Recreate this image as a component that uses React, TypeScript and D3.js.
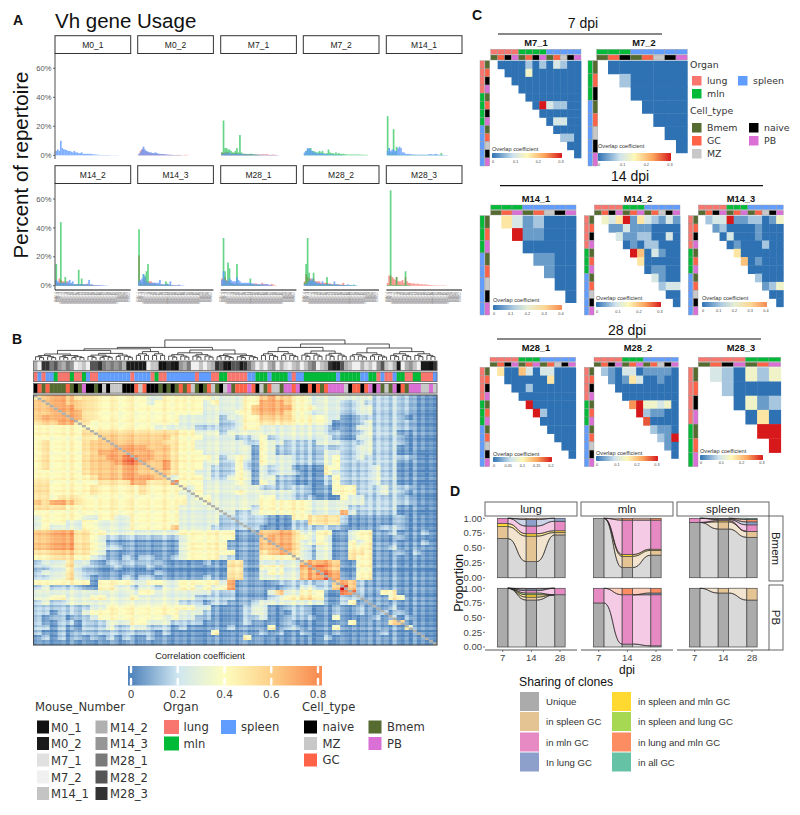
import React from 'react';
import * as d3 from 'd3';

const SANS = '"Liberation Sans", Arial, sans-serif';
const WIDE = '"DejaVu Sans", Verdana, sans-serif';

// shared colours
const organColors: Record<string, string> = { lung: '#F8766D', mln: '#00BA38', spleen: '#619CFF' };
const cellColors: Record<string, string> = { naive: '#000000', MZ: '#C8C8C8', GC: '#FF6347', Bmem: '#556B2F', PB: '#DA70D6' };

// ---- panel A: Vh usage, percent per gene bin
const m0_1_spleen = [3, 4, 3, 10, 5, 4, 4, 3.5, 3, 3, 2.5, 2, 3, 2, 2, 1.5, 1.5, 2, 1, 1, 1, 1, 1, 1, 0.8, 0.6, 0.5, 0.5, 0.3, 0.3, 0.2, 0.2, 0.2, 0.2, 0.2, 0.2, 0.1, 0.1, 0.1, 0.1, 0.1, 0.1];
const m0_2_lung = [1, 3, 4, 5, 3, 2.5, 2, 2, 1.5, 1.5, 1, 1.5, 1, 1, 0.8, 0.8, 0.6, 0.5, 0.5, 0.4, 0.3, 0.3, 0.3, 0.2, 0.2, 0.2, 0.3, 0.3, 0.2, 0.1, 0.1, 0.3, 0.3, 0.1];
const m0_2_spleen = [1, 2, 4, 6, 4, 3, 2.5, 2, 2, 1.5, 1.5, 2, 1.5, 1, 1, 0.8, 0.8, 0.8, 0.5, 0.5, 0.4, 0.3, 0.3, 0.2, 0.2, 0.2, 0.2, 0.1, 0.1, 0.1];
const m7_1_lung = [2, 1.5, 2, 2, 2, 1, 1, 1.5, 1, 1.5, 1.5, 1, 1, 1, 1, 1, 0.8, 0.8, 0.8, 0.8, 0.6, 0.6, 0.5, 0.5, 0.5, 0.5, 0.5, 0.8, 0.5, 0.5, 0.8, 0.5, 0.3, 0.3, 0.5, 0.3, 0.3, 0.2];
const m7_1_mln = [2, 24, 5, 5, 4, 4, 3, 2, 2, 3, 5, 2, 14, 2, 1, 1, 1, 0.8, 0.8, 1, 1, 0.6, 0.5, 0.5, 0.3, 0.3];
const m7_1_spleen = [1, 1, 1.5, 1.5, 1, 2, 1, 1, 1, 1, 1, 1, 1, 1, 0.8, 0.6, 0.6, 0.5, 0.5, 0.5, 0.5, 0.4, 0.4, 0.3, 0.3, 0.3, 0.3, 0.3, 0.3, 0.3, 0.2, 0.2, 0.2, 0.2, 0.2, 0.2, 0.2, 0.1, 0.1];
const m7_2_mln = [1, 3, 4, 4, 5, 3, 3, 2.5, 2, 2, 3, 2, 3, 1.5, 1, 1.5, 4, 2, 1.5, 1.5, 1, 2, 1, 1.5, 1, 1, 1, 0.8, 0.6, 0.5, 0.5, 0.5, 0.5, 0.5, 0.5, 0.5, 0.5, 0.5, 0.4, 0.4, 0.3, 0.3, 0.3];
const m7_2_spleen = [2, 3, 5, 5, 4, 3, 2, 2, 1.5, 1, 1.5, 1.5, 1, 1, 0.8, 0.8, 0.6, 0.5, 0.5, 0.5, 0.4, 0.3, 0.3, 0.3, 0.2, 0.2];
const m14_1_mln = [27, 5, 2, 2, 18, 2, 6, 0.5, 0.5, 0.3, 0.3, 0.3, 0.3, 0.2, 0.2, 0.2, 0.2, 0.2, 0.2, 0.2, 0.2, 0.2, 0.2, 0.2, 0.2, 0.2, 0.2, 0.2, 0.2, 0.2, 0.2, 0.2, 0.2, 0.2, 0.2, 0.2, 1.5, 0.2];
const m14_1_spleen = [3, 5, 3, 4, 4, 3, 3, 5, 6, 5, 2, 2, 1, 1, 1, 0.8, 0.8, 0.5, 0.5, 0.5, 0.4, 0.4, 0.4, 0.4, 0.4, 0.4, 0.4, 0.4, 0.8, 0.8, 0.6, 0.5, 1, 0.8, 0.4, 0.3, 0.3, 0.3, 0.2, 0.2, 0.2];
const m14_2_lung = [3, 2, 5, 4, 3, 3, 2, 3, 2, 1.5, 1, 1, 1, 1, 1, 1, 1, 0.8, 0.8, 1, 1, 1.5, 0.8, 0.5, 0.5, 0.5, 0.5, 0.3, 0.3, 0.3, 0.2, 0.2];
const m14_2_mln = [15, 1, 2, 44, 2, 2, 6, 1, 1, 1, 0.8, 0.8, 0.8, 0.8, 0.8, 11, 1, 5, 0.8, 0.6, 0.6, 0.5, 0.5, 0.3, 0.3];
const m14_2_spleen = [4, 3, 2, 2, 2, 2, 2, 2, 3, 4, 2, 3, 1, 1, 1, 1, 1, 1, 1, 1, 1, 1, 4, 1, 1, 0.5, 0.5, 0.5, 0.5, 0.5, 0.3, 0.3, 0.3, 0.2, 0.2];
const m14_3_lung = [21, 3, 2, 4, 5, 3, 2, 3, 3, 2, 2, 1.5, 1, 1, 1, 1, 0.8, 0.8, 0.8, 0.8, 0.5, 0.5, 0.4, 0.4, 0.3, 0.3, 0.5, 0.3];
const m14_3_mln = [39, 2, 1, 8, 7, 10, 15, 1, 1, 1, 1, 0.8, 0.6, 0.6, 0.6, 0.5, 0.5, 0.5, 3, 1.5, 0.5, 0.3, 0.3];
const m14_3_spleen = [3, 4, 5, 8, 6, 3, 2, 2, 2, 2, 2, 2, 2, 2, 4, 1, 1, 1, 1, 1, 1, 3, 0.5, 0.5, 0.5, 0.4, 0.4, 0.8, 0.3, 0.3, 0.2];
const m28_1_lung = [5, 4, 6, 4, 3, 3, 2, 2, 1.5, 1.5, 1.5, 1.5, 1, 1, 1, 1, 1, 1, 1, 1, 1, 1, 1.5, 1.5, 1, 1, 0.8, 2, 1, 1, 1, 0.5, 0.5, 1, 1, 0.3, 0.3];
const m28_1_mln = [1, 33, 10, 3, 16, 12, 2, 1, 1, 1, 15, 1, 1, 1, 1, 1, 0.8, 0.8, 0.8, 5, 1, 0.8, 0.6, 0.5, 0.5, 0.5, 0.3, 0.3];
const m28_1_spleen = [4, 10, 4, 3, 3, 5, 4, 3, 3, 3, 6, 4, 3, 2, 2, 2, 2, 2, 2, 2, 1.5, 1.5, 1, 1, 1, 1, 1, 1, 1, 1, 1, 1, 0.5, 0.5];
const m28_2_lung = [3, 8, 6, 5, 5, 4, 5, 3, 3, 3, 3, 2, 2, 2, 2, 2, 1.5, 1.5, 1, 1, 1, 1, 1, 1, 0.8, 0.8, 2, 0.5, 0.5, 0.3, 0.3, 0.3];
const m28_2_mln = [2, 15, 33, 9, 3, 3, 9, 2, 2, 1, 1, 1, 1, 1, 1, 6, 1, 1, 0.8, 0.8, 0.5, 0.5, 0.5, 0.5, 0.5, 0.5, 0.5, 0.5, 0.3, 0.3, 0.3, 0.3, 0.3, 0.8, 0.3];
const m28_2_spleen = [1, 1, 2, 3, 4, 5, 3, 3, 2, 2, 2, 1, 3, 1, 1, 1, 1, 1, 1, 0.5, 3, 1, 1, 0.5, 0.5, 0.5, 0.5, 0.5, 0.5, 1, 0.5, 0.5, 0.4, 0.4, 0.3, 0.3];
const m28_3_lung = [2, 7, 7, 6, 5, 4, 6, 3, 3, 3, 4, 2, 6, 3, 2, 2, 1.5, 1.5, 1.5, 1, 1.5, 1, 1, 1, 0.8, 0.8, 0.8, 0.6, 0.5, 0.5, 0.3, 0.3, 0.3, 0.2, 0.2, 0.2, 0.2, 0.2, 0.2, 0.2];
const m28_3_mln = [0.5, 0.5, 66, 0.5, 0.5, 0.5, 6, 0.5, 0.5, 0.5, 0.5, 0.5, 10, 0.5, 0.3, 0.3];

const vhGenes = ['IGHV1-4', 'IGHV1-5', 'IGHV1-7', 'IGHV1-9', 'IGHV1-12', 'IGHV1-14', 'IGHV1-15', 'IGHV1-18', 'IGHV1-19', 'IGHV1-20', 'IGHV1-22', 'IGHV1-23', 'IGHV1-26', 'IGHV1-31', 'IGHV1-34', 'IGHV1-36', 'IGHV1-39', 'IGHV1-42', 'IGHV1-43', 'IGHV1-47', 'IGHV1-50', 'IGHV1-52', 'IGHV1-53', 'IGHV1-54', 'IGHV1-55', 'IGHV1-58', 'IGHV1-59', 'IGHV1-61', 'IGHV1-63', 'IGHV1-64', 'IGHV1-66', 'IGHV1-69', 'IGHV1-72', 'IGHV1-74', 'IGHV1-75', 'IGHV1-76', 'IGHV1-78', 'IGHV1-80', 'IGHV1-81', 'IGHV1-82', 'IGHV1-84', 'IGHV1-85', 'IGHV2-2', 'IGHV2-3', 'IGHV2-6', 'IGHV3-1', 'IGHV3-6', 'IGHV3-8', 'IGHV4-1', 'IGHV5-4'];

const usagePanels = [
  { name: 'M0_1', lung: [], mln: [], spleen: m0_1_spleen },
  { name: 'M0_2', lung: m0_2_lung, mln: [], spleen: m0_2_spleen },
  { name: 'M7_1', lung: m7_1_lung, mln: m7_1_mln, spleen: m7_1_spleen },
  { name: 'M7_2', lung: [], mln: m7_2_mln, spleen: m7_2_spleen },
  { name: 'M14_1', lung: [], mln: m14_1_mln, spleen: m14_1_spleen },
  { name: 'M14_2', lung: m14_2_lung, mln: m14_2_mln, spleen: m14_2_spleen },
  { name: 'M14_3', lung: m14_3_lung, mln: m14_3_mln, spleen: m14_3_spleen },
  { name: 'M28_1', lung: m28_1_lung, mln: m28_1_mln, spleen: m28_1_spleen },
  { name: 'M28_2', lung: m28_2_lung, mln: m28_2_mln, spleen: m28_2_spleen },
  { name: 'M28_3', lung: m28_3_lung, mln: m28_3_mln, spleen: [] },
];
const usageTicks = [0, 20, 40, 60];
const usageColX = [55, 137.7, 220.7, 303.3, 386.3];

// ---- panel B: correlation heatmap, coarse read of the picture, one digit per 2x2 block
const corrRows = [
  '5677655544 4444334444 4433334467 6644333333 3322222111',
  '6677665544 4444344444 4343334477 7644333322 3222222111',
  '6677765544 4444444444 4333334677 7744433322 3322222111',
  '6677775544 4444444444 4333344677 7644333322 3322222111',
  '6777775544 4444444433 3332334466 6644443311 2222221111',
  '5667755444 4444444433 3332234455 5544443111 2322222111',
  '4444444444 4444433333 2222234433 3333332111 3322222111',
  '4444445555 5555555544 3332333333 3333332211 2322211111',
  '4444445566 6666666544 4333322342 3333333211 3322221111',
  '4544445666 6666665544 3333332243 3222233322 2322221111',
  '4544445666 7777666544 3333333143 2222222222 3322211111',
  '4544445677 7777766544 4333333143 2222223322 3322211101',
  '4544445667 7887766544 4432343143 3322223422 3222222101',
  '4544445666 7887667544 4332242143 3322223422 2222211101',
  '4544445666 6776667544 4322242132 3311114422 2232211101',
  '4444445666 6776666544 3322243132 3321114322 2232211101',
  '4444444566 6777765344 4322343133 2211112422 2232211101',
  '5544444455 5577555844 4333343143 2211112422 2232211101',
  '5544444544 4445444443 4333333322 2222111444 2223222111',
  '5544444544 4445444433 4333343333 3322111444 2223221111',
  '5545554444 4444444443 4433333344 3322211143 3222222111',
  '6577654444 4444444443 3433333344 4444333333 3222222111',
  '5555444444 4444444433 3333333244 4444333332 2222211101',
  '4444444444 4444444433 3333322344 4444333373 2222211101',
  '3444443344 3344444433 3332222221 1144555521 1111121111',
  '3444334433 3344444433 3332222221 1122555521 1111121111',
  '3433334433 3344444633 3322222211 1122222211 1112221111',
  '6677755443 3333333344 4444411166 7753344113 4411211121',
  '6677755432 2222222234 4444411167 7754343113 4411121111',
  '6677755431 1111111134 4444111167 7753343114 3411111121',
  '6677755432 2111111134 4444111166 7753233114 4411211111',
  '5566655431 1111111134 4444411156 7753233115 5411121211',
  '4455544321 1212211234 4443211144 4443233115 4411111111',
  '2333533212 2222221111 1211551133 3336777611 4411111111',
  '2233532211 2111211111 1111551144 4337887611 4411111111',
  '2333532211 1111121111 1111551134 4336788711 4411111111',
  '2233532111 1212211111 1211551133 3336778711 4411111111',
  '4444444144 4433443344 4443711111 2222222676 2111111111',
  '2322221144 3323323344 3434711111 1223322696 2111111111',
  '3333333333 3334433333 3322211113 6334441188 2114411111',
  '3344333443 3343333333 2222211112 3445541122 2111441111',
  '2322333333 3333333322 2122111233 3333331124 1111111111',
  '2222222334 4444444444 3311112331 1222111211 2111211111',
  '2212223444 4444444433 3211112331 1122111211 2112121111',
  '2122122344 4444443433 2211112231 1222211411 1121212111',
  '2112212223 3344333222 2111112111 1211111114 1111561111',
  '2212112223 2233222121 1111211114 1221111411 1111114111',
  '2112122222 2222212111 1141111121 2112111211 1112111111',
  '1212121212 1211211111 1111114111 1111112111 1111111111',
  '1111111111 1111111111 1111111111 1111111111 1111111111',
];
// what each digit of corrRows stands for
const corrLevels = [0, 0.04, 0.14, 0.27, 0.4, 0.5, 0.6, 0.7, 0.8, 0.95];
// lighter or darker stripes seen per column and per row, 4 is neutral
const corrColumnStripes = '4545344536 4354435446 5345634453 4464354535 4435463445 3564455345 2534635362 4463345435 3546364537 4352635343';
const corrRowStripes = '5454454344 5345464345 4543546445 3546345464 3455463454 5345364436 4635453462 3546453654 3646354534 4536253544';
const corrLegendTicks = [0, 0.2, 0.4, 0.6, 0.8];

// column annotations, one letter per leaf
const mouseTrack = '5399786576 3243889767 6751111134 4009106573 3434598108 8197534356 3523453467 3459118543 3524368425 1356431109';
const organTrack = 'LSLSSMLLLM LLMSLLSSSS SSSSLSSSSL MLLSSSSSSS LSSSLLMMLL LLLSSMMMSM MMMSLSSMMM MMMMMSMMMM MSSMMLSLLS MMLLMMLLLS';
const cellTrack = 'NGBGBBBBGB NBPNNBNZNZ ZZNNNGZGNN NBNBNBGBGZ BNBGZBNZPB GGGPGNZBGZ ZBPPGPNNGN GBGPPPPZNG GNGPNPBZBP NGBPPPZZPZ';
const organCodes: Record<string, string> = { L: 'lung', M: 'mln', S: 'spleen' };
const cellCodes: Record<string, string> = { N: 'naive', Z: 'MZ', G: 'GC', B: 'Bmem', P: 'PB' };

const mouseNames = ['M0_1', 'M0_2', 'M7_1', 'M7_2', 'M14_1', 'M14_2', 'M14_3', 'M28_1', 'M28_2', 'M28_3'];
const mouseGreys = ['#111111', '#1a1a1a', '#e0e0e0', '#f0f0f0', '#c4c4c4', '#b0b0b0', '#969696', '#7a7a7a', '#555555', '#333333'];

// dendrogram: [height, left, right], a plain number is a block of that many leaves
const dendro: any = [1,
  [0.63,
    [0.56, [0.48, [0.3, 6, 7], [0.33, 7, 5]], [0.42, 4, 4]],
    [0.5, [0.36, 6, 6], [0.3, 5, 6]],
  ],
  [0.8,
    [0.63, [0.42, 5, 5], [0.45, 6, 6]],
    [0.6, [0.36, 5, 5], [0.42, 6, 6]],
  ],
];

// ---- panel C: overlap coefficient, digit 0-9 as tenths of the colour range
const M7_1_rows = ['000020203200', '00040000000', '0000000000', '000000000', '00000000', '0932200', '000000', '03300', '0000', '220', '00', '0'];
const M7_2_rows = ['0000000', '200000', '00000', '0000', '000', '00', '0'];
const M14_1_rows = ['5312000', '911000', '00000', '1100', '100', '00', '0'];
const M14_2_rows = ['43591532131', '1131110000', '311220030', '01022000', '9603100', '500000', '01100', '3100', '233', '00', '0'];
const M14_3_rows = ['23391122014', '1200001000', '030001000', '01000200', '5000000', '601000', '00000', '2000', '124', '00', '0'];
const M28_1_rows = ['50063033000', '0000005000', '002000000', '00000000', '9000000', '920000', '00000', '0000', '000', '00', '0'];
const M28_2_rows = ['21033011110', '1015300100', '000000000', '00000000', '7944340', '921100', '80000', '2110', '219', '10', '0'];
const M28_3_rows = ['320424', '20000', '0412', '050', '99', '9'];

const groupsAll = ['lB', 'lG', 'lN', 'lP', 'mB', 'mG', 'mN', 'mP', 'sB', 'sG', 'sZ', 'sN', 'sP'];
const groups12 = ['lB', 'lG', 'lN', 'lP', 'mB', 'mG', 'mP', 'sB', 'sG', 'sZ', 'sN', 'sP'];
const groupsMlnSpleenN = ['mB', 'mG', 'mN', 'sB', 'sG', 'sZ', 'sN', 'sP'];
const groupsMlnSpleenP = ['mB', 'mG', 'mP', 'sB', 'sG', 'sZ', 'sN', 'sP'];
const groupsLungMln = ['lB', 'lG', 'lN', 'lP', 'mB', 'mG', 'mP'];
const groupOrgan: Record<string, string> = { l: 'lung', m: 'mln', s: 'spleen' };
const groupCell: Record<string, string> = { B: 'Bmem', G: 'GC', N: 'naive', P: 'PB', Z: 'MZ' };

const overlapPanels = [
  { name: 'M7_1', rows: M7_1_rows, groups: groupsAll, x: [490.7, 581], y: [49.3, 60.7, 166], strip: 480, titleX: 536, titleY: 46, ticks: ['0', '0.1', '0.2', '0.3'], lx: [492, 562], ly: 150.7, by: [153, 158], ty: 163, end: 1 },
  { name: 'M7_2', rows: M7_2_rows, groups: groupsMlnSpleenN, x: [596.7, 687.3], y: [49.3, 60.7, 166], strip: 588, titleX: 644, titleY: 46, ticks: ['0', '0.1', '0.2', '0.3'], lx: [598, 671], ly: 148, by: [153, 161], ty: 165.5, end: 1 },
  { name: 'M14_1', rows: M14_1_rows, groups: groupsMlnSpleenP, x: [490.7, 576], y: [205, 215.7, 315], strip: 480, titleX: 536, titleY: 201.5, ticks: ['0', '0.1', '0.2', '0.3', '0.4'], lx: [493, 562], ly: 301.7, by: [305, 310], ty: 314.5, end: 0.8 },
  { name: 'M14_2', rows: M14_2_rows, groups: groups12, x: [594.3, 680], y: [205, 215.7, 315], strip: 584.3, titleX: 638, titleY: 201.5, ticks: ['0', '0.1', '0.2', '0.3'], lx: [596, 661], ly: 300, by: [302, 307], ty: 312.5, end: 1 },
  { name: 'M14_3', rows: M14_3_rows, groups: groups12, x: [698.3, 783.3], y: [205, 215.7, 315], strip: 688.3, titleX: 741, titleY: 201.5, ticks: ['0', '0.1', '0.2', '0.3', '0.4'], lx: [702, 767], ly: 299.5, by: [302, 307], ty: 311.5, end: 0.8 },
  { name: 'M28_1', rows: M28_1_rows, groups: groups12, x: [490, 575.7], y: [357.3, 367.3, 466.7], strip: 480, titleX: 536, titleY: 351, ticks: ['0', '0.05', '0.1', '0.15', '0.2'], lx: [493, 552], ly: 455.7, by: [457, 462], ty: 466.5, end: 1 },
  { name: 'M28_2', rows: M28_2_rows, groups: groups12, x: [594, 678.3], y: [357.3, 367.3, 466.7], strip: 584.3, titleX: 638, titleY: 351, ticks: ['0', '0.1', '0.2', '0.3'], lx: [596, 658], ly: 454.5, by: [456, 461], ty: 465.5, end: 1 },
  { name: 'M28_3', rows: M28_3_rows, groups: groupsLungMln, x: [698.3, 780.7], y: [357.3, 367.3, 466.7], strip: 688.3, titleX: 741, titleY: 351, ticks: ['0', '0.1', '0.2', '0.3'], lx: [700, 763], ly: 453, by: [455, 460], ty: 464, end: 1 },
];
const dpiHeadings = [
  { label: '7 dpi', x: 583, y: 28, line: [498, 662], lineY: 34 },
  { label: '14 dpi', x: 630, y: 181, line: [500, 763], lineY: 185.6 },
  { label: '28 dpi', x: 627, y: 335, line: [497, 761], lineY: 339 },
];

// ---- panel D: sharing of clones, bottom to top of the stack
const shareKeys = ['Unique', 'in spleen GC', 'in spleen and mln GC', 'in spleen and lung GC', 'in mln GC', 'In lung GC', 'in lung and mln GC', 'in all GC'];
const shareColors = ['#ababab', '#e5c494', '#ffd92f', '#a6d854', '#e78ac3', '#8da0cb', '#fc8d62', '#66c2a5'];
const dpiLabels = ['7', '14', '28'];
const lungBmem = [[0.66, 0.2, 0.05, 0, 0.09, 0, 0, 0], [0.27, 0.43, 0.04, 0, 0.13, 0.11, 0.02, 0], [0.72, 0.04, 0.03, 0, 0.16, 0.05, 0, 0]];
const mlnBmem = [[1, 0, 0, 0, 0, 0, 0, 0], [0.17, 0.19, 0.03, 0, 0.58, 0, 0.03, 0], [0.38, 0.08, 0.02, 0, 0.49, 0, 0.03, 0]];
const spleenBmem = [[0.93, 0, 0, 0, 0.07, 0, 0, 0], [0.82, 0.12, 0.02, 0, 0.02, 0.01, 0.01, 0], [0.68, 0.1, 0, 0, 0.11, 0.05, 0.04, 0.02]];
const lungPB = [[1, 0, 0, 0, 0, 0, 0, 0], [0.8, 0.05, 0.04, 0.03, 0.04, 0.03, 0.01, 0], [0.89, 0, 0, 0, 0.11, 0, 0, 0]];
const mlnPB = [[0.75, 0, 0, 0, 0.25, 0, 0, 0], [0.05, 0, 0, 0, 0.84, 0, 0.11, 0], [0.02, 0, 0, 0, 0.87, 0.03, 0.08, 0]];
const spleenPB = [[1, 0, 0, 0, 0, 0, 0, 0], [0.92, 0.08, 0, 0, 0, 0, 0, 0], [0.8, 0.2, 0, 0, 0, 0, 0, 0]];
const shareTicks = [0, 0.25, 0.5, 0.75, 1];
const shareFacets = [
  { organ: 'lung', x: 485, rows: [lungBmem, lungPB] },
  { organ: 'mln', x: 581, rows: [mlnBmem, mlnPB] },
  { organ: 'spleen', x: 677, rows: [spleenBmem, spleenPB] },
];

function cleanChars(s: string) {
  return s.replace(/ /g, '').split('');
}

function UsagePanel({ panel, row, col }: any) {
  const x0 = usageColX[col];
  const top = row === 0 ? 35.7 : 165.7;
  const y0 = row === 0 ? 155.3 : 285.7;
  const y60 = row === 0 ? 68.3 : 199;
  const y = d3.scaleLinear().domain([0, 60]).range([y0, y60]);
  const x = d3.scaleBand<number>().domain(d3.range(50)).range([x0 + 0.5, x0 + 75]);
  const series: [string, number[], number][] = [['lung', panel.lung, 0.75], ['mln', panel.mln, 0.6], ['spleen', panel.spleen, 0.8]];
  return (
    <g>
      <rect x={x0} y={top} width={75.7} height={17.8} fill="#fff" stroke="#333" strokeWidth={1} />
      <text x={x0 + 37.8} y={top + 12} textAnchor="middle" fontSize={8.5} fill="#222">{panel.name}</text>
      {series.map(([organ, values, alpha]) => (
        <g key={organ} fill={organColors[organ]} opacity={alpha}>
          {values.map((v, i) => (
            <rect key={i} x={x(i)} y={y(v)} width={x.bandwidth() + 0.2} height={y0 - y(v)} />
          ))}
        </g>
      ))}
      {row === 1 && (
        <g>
          <line x1={x0} x2={x0 + 75.7} y1={290} y2={290} stroke="#111" strokeWidth={1} />
          {vhGenes.map((g, i) => (
            <text key={g} transform={`translate(${x(i)! + 1},${292}) rotate(-90)`} textAnchor="end" fontSize={2.6} fill="#777">{g}</text>
          ))}
        </g>
      )}
      {col === 0 && (
        <g>
          <line x1={x0} x2={x0} y1={top + 17.8} y2={row === 0 ? 159 : 290} stroke="#222" strokeWidth={0.8} />
          {usageTicks.map((t) => (
            <g key={t}>
              <line x1={x0 - 2} x2={x0} y1={y(t)} y2={y(t)} stroke="#333" strokeWidth={0.7} />
              <text x={x0 - 3.5} y={y(t) + 2.6} textAnchor="end" fontSize={7.6} fill="#555">{t}%</text>
            </g>
          ))}
        </g>
      )}
    </g>
  );
}

function PanelA() {
  return (
    <g fontFamily={SANS}>
      <text x={55} y={28} fontSize={20.5} fill="#111">Vh gene Usage</text>
      <text transform="translate(28,165) rotate(-90)" textAnchor="middle" fontSize={20.5} fill="#111">Percent of repertoire</text>
      {usagePanels.map((p, i) => (
        <UsagePanel key={p.name} panel={p} row={Math.floor(i / 5)} col={i % 5} />
      ))}
    </g>
  );
}

function expandDendro(node: any, parentH: number): any {
  if (typeof node === 'number') {
    if (node === 1) return { h: 0, children: null };
    const h = parentH * 0.74;
    const a = Math.floor(node / 2);
    return { h, children: [expandDendro(a, h), expandDendro(node - a, h)] };
  }
  const [h, ...kids] = node;
  return { h, children: kids.map((k: any) => expandDendro(k, h)) };
}

function Dendrogram({ x }: any) {
  const y = d3.scaleLinear().domain([0, 1]).range([360, 340]);
  const root = d3.hierarchy(expandDendro(dendro, 1), (d: any) => d.children);
  let leaf = 0;
  const pos = new Map<any, number>();
  root.eachAfter((n: any) => {
    if (!n.children) pos.set(n, x(leaf++) + x.bandwidth() / 2);
    else pos.set(n, d3.mean(n.children, (c: any) => pos.get(c) as number) as number);
  });
  const paths: string[] = [];
  root.each((n: any) => {
    if (!n.children) return;
    const [a, b] = n.children;
    paths.push(`M${pos.get(a)},${y(a.data.h)}V${y(n.data.h)}H${pos.get(b)}V${y(b.data.h)}`);
  });
  return <path d={paths.join('')} fill="none" stroke="#333" strokeWidth={0.85} />;
}

function PanelB() {
  const corrColor = d3.scaleLinear<string>().domain([0, 0.2, 0.4, 0.6, 0.8, 1]).range(['#4f83bc', '#cfe6f0', '#fdfdbf', '#fdd089', '#f88c51', '#d7191c']);
  const xFine = d3.scaleBand<number>().domain(d3.range(100)).range([33.5, 437]);
  const yFine = d3.scaleBand<number>().domain(d3.range(100)).range([395, 645]);
  const blocks = corrRows.map((r) => cleanChars(r).map((c) => corrLevels[+c]));
  const colStripe = cleanChars(corrColumnStripes).map(Number);
  const rowStripe = cleanChars(corrRowStripes).map(Number);
  const cellValue = (r: number, c: number) => {
    const base = blocks[Math.floor(r / 2)][Math.floor(c / 2)];
    return Math.max(0, base + (colStripe[c] - 4) * 0.03 + (rowStripe[r] - 4) * 0.025);
  };
  const tracks = [
    { y: 361, colors: cleanChars(mouseTrack).map((c) => mouseGreys[+c]) },
    { y: 372, colors: cleanChars(organTrack).map((c) => organColors[organCodes[c]]) },
    { y: 383.5, colors: cleanChars(cellTrack).map((c) => cellColors[cellCodes[c]]) },
  ];
  const barX = d3.scaleLinear().domain([0, 0.8]).range([131, 318]);
  return (
    <g fontFamily={SANS}>
      <Dendrogram x={xFine} />
      {tracks.map((t) => (
        <g key={t.y}>
          {t.colors.map((c, i) => (
            <rect key={i} x={xFine(i)} y={t.y} width={xFine.bandwidth() + 0.2} height={9.6} fill={c} />
          ))}
          <rect x={33.5} y={t.y} width={403.5} height={9.6} fill="none" stroke="#666" strokeWidth={0.8} />
        </g>
      ))}
      {d3.range(100).map((r) =>
        d3.range(100).map((c) => (
          <rect key={`${r}-${c}`} x={xFine(c)} y={yFine(r)} width={xFine.bandwidth() + 0.2} height={yFine.bandwidth() + 0.2} fill={r === c ? '#aeb0ac' : corrColor(cellValue(r, c))} />
        )),
      )}
      <rect x={33.5} y={395} width={403.5} height={250} fill="none" stroke="#444" strokeWidth={1} />

      <text x={200} y={659} textAnchor="middle" fontSize={9.3} fill="#222">Correlation coefficient</text>
      <defs>
        <linearGradient id="corrGrad" x1="0" x2="1" y1="0" y2="0">
          {corrLegendTicks.map((t) => (
            <stop key={t} offset={(barX(t) - 128) / 194} stopColor={corrColor(t)} />
          ))}
        </linearGradient>
      </defs>
      <rect x={128} y={666} width={194} height={19.5} fill="url(#corrGrad)" />
      {corrLegendTicks.map((t) => (
        <g key={t}>
          <line x1={barX(t)} x2={barX(t)} y1={667} y2={672} stroke="#fff" strokeWidth={2.4} strokeLinecap="round" />
          <line x1={barX(t)} x2={barX(t)} y1={679} y2={684} stroke="#fff" strokeWidth={2.4} strokeLinecap="round" />
          <text x={barX(t)} y={697.5} textAnchor="middle" fontFamily={WIDE} fontSize={10.5} fill="#444">{t}</text>
        </g>
      ))}
      <PanelBLegends />
    </g>
  );
}

function PanelBLegends() {
  const rowY = [727, 743.5, 760, 777, 793.5];
  const title = { fontFamily: WIDE, fontSize: 11.6, fill: '#333' };
  const label = { fontFamily: WIDE, fontSize: 11.6, fill: '#333' };
  return (
    <g>
      <text x={35} y={711} {...title}>Mouse_Number</text>
      {mouseNames.map((m, i) => {
        const col = i < 5 ? 0 : 1;
        const y = rowY[i % 5];
        return (
          <g key={m}>
            <rect x={col ? 95.5 : 37} y={y - 6.5} width={12} height={13} fill={mouseGreys[i]} />
            <text x={col ? 110 : 51} y={y + 4.5} {...label}>{m}</text>
          </g>
        );
      })}
      <text x={163} y={711} {...title}>Organ</text>
      {['lung', 'mln'].map((o, i) => (
        <g key={o}>
          <rect x={164} y={rowY[i] - 7} width={15} height={14} fill={organColors[o]} />
          <text x={183.5} y={rowY[i] + 4} {...label}>{o}</text>
        </g>
      ))}
      <rect x={221} y={rowY[0] - 7} width={15} height={14} fill={organColors.spleen} />
      <text x={241} y={rowY[0] + 4} {...label}>spleen</text>
      <text x={302} y={711} {...title}>Cell_type</text>
      {['naive', 'MZ', 'GC'].map((c, i) => (
        <g key={c}>
          <rect x={304} y={rowY[i] - 6.5} width={13} height={13} fill={cellColors[c]} />
          <text x={322.5} y={rowY[i] + 4} {...label}>{c}</text>
        </g>
      ))}
      {['Bmem', 'PB'].map((c, i) => (
        <g key={c}>
          <rect x={368.5} y={rowY[i] - 6.5} width={13} height={13} fill={cellColors[c]} />
          <text x={387} y={rowY[i] + 4} {...label}>{c}</text>
        </g>
      ))}
    </g>
  );
}

function OverlapPanel({ p, gradId }: any) {
  const n = p.groups.length;
  const x = d3.scaleBand<number>().domain(d3.range(n)).range(p.x);
  const [yOrgan, yTop, yBottom] = p.y;
  const y = d3.scaleBand<number>().domain(d3.range(n)).range([yTop, yBottom]);
  const color = d3.scaleLinear<string>().domain([0, 0.3, 0.5, 0.75, 1]).range(['#2f72b4', '#cfe3ee', '#fdf8b8', '#fca55d', '#d7191c']);
  const headH = (yTop - yOrgan - 1.4) / 2;
  const barX = d3.scalePoint<string>().domain(p.ticks).range([p.lx[0] + 1, p.lx[1] - 1]);
  const stops = [0, 0.3, 0.5, 0.75, 1].map((t) => t * p.end);
  return (
    <g>
      <text x={p.titleX} y={p.titleY} textAnchor="middle" fontFamily={SANS} fontWeight="bold" fontSize={9.3} fill="#111">{p.name}</text>
      {p.groups.map((g: string, i: number) => (
        <g key={g}>
          <rect x={x(i)} y={yOrgan} width={x.bandwidth()} height={headH} fill={organColors[groupOrgan[g[0]]]} stroke="#999" strokeWidth={0.4} />
          <rect x={x(i)} y={yOrgan + headH + 0.7} width={x.bandwidth()} height={headH} fill={cellColors[groupCell[g[1]]]} stroke="#999" strokeWidth={0.4} />
          <rect x={p.strip} y={y(i)} width={4.5} height={y.bandwidth()} fill={organColors[groupOrgan[g[0]]]} stroke="#999" strokeWidth={0.4} />
          <rect x={p.strip + 5} y={y(i)} width={4.7} height={y.bandwidth()} fill={cellColors[groupCell[g[1]]]} stroke="#999" strokeWidth={0.4} />
        </g>
      ))}
      {p.rows.map((row: string, r: number) =>
        row.split('').map((c, k) => (
          <rect key={`${r}-${k}`} x={x(r + 1 + k)} y={y(r)} width={x.bandwidth() + 0.4} height={y.bandwidth() + 0.4} fill={color(+c / 9)} />
        )),
      )}
      <defs>
        <linearGradient id={gradId} x1="0" x2="1" y1="0" y2="0">
          {stops.map((t, i) => (
            <stop key={i} offset={[0, 0.3, 0.5, 0.75, 1][i]} stopColor={color(t)} />
          ))}
        </linearGradient>
      </defs>
      <text x={p.lx[0]} y={p.ly} fontFamily={SANS} fontSize={5.6} fill="#333">Overlap coefficient</text>
      <rect x={p.lx[0]} y={p.by[0]} width={p.lx[1] - p.lx[0]} height={p.by[1] - p.by[0]} fill={`url(#${gradId})`} rx={0.8} />
      {p.ticks.map((t: string) => (
        <text key={t} x={barX(t)} y={p.ty} textAnchor="middle" fontFamily={SANS} fontSize={3.8} fill="#444">{t}</text>
      ))}
    </g>
  );
}

function PanelC() {
  const text = { fontFamily: WIDE, fontSize: 9.4, fill: '#333' };
  return (
    <g>
      {dpiHeadings.map((d) => (
        <g key={d.label}>
          <text x={d.x} y={d.y} textAnchor="middle" fontFamily={SANS} fontSize={14} fill="#111">{d.label}</text>
          <line x1={d.line[0]} x2={d.line[1]} y1={d.lineY} y2={d.lineY} stroke="#111" strokeWidth={1.1} />
        </g>
      ))}
      {overlapPanels.map((p, i) => (
        <OverlapPanel key={p.name} p={p} gradId={`overlap${i}`} />
      ))}
      <text x={690} y={68} {...text}>Organ</text>
      <rect x={692} y={76} width={9.5} height={9.5} fill={organColors.lung} />
      <text x={707} y={84} {...text}>lung</text>
      <rect x={738} y={76} width={9.5} height={9.5} fill={organColors.spleen} />
      <text x={753} y={84} {...text}>spleen</text>
      <rect x={692} y={89} width={9.5} height={9.5} fill={organColors.mln} />
      <text x={707} y={97} {...text}>mln</text>
      <text x={690} y={114} {...text}>Cell_type</text>
      <rect x={692} y={123} width={9.5} height={9.5} fill={cellColors.Bmem} />
      <text x={707} y={131} {...text}>Bmem</text>
      <rect x={749} y={123} width={9.5} height={9.5} fill={cellColors.naive} />
      <text x={764} y={131} {...text}>naive</text>
      <rect x={692} y={136} width={9.5} height={9.5} fill={cellColors.GC} />
      <text x={707} y={144} {...text}>GC</text>
      <rect x={749} y={136} width={9.5} height={9.5} fill={cellColors.PB} />
      <text x={764} y={144} {...text}>PB</text>
      <rect x={692} y={149} width={9.5} height={9.5} fill={cellColors.MZ} />
      <text x={707} y={157} {...text}>MZ</text>
    </g>
  );
}

function ShareFacet({ rows, x0, yRange }: any) {
  const y = d3.scaleLinear().domain([0, 1]).range(yRange);
  const x = d3.scalePoint<string>().domain(dpiLabels).range([x0 + 17.7, x0 + 75]);
  const barW = 10.3;
  const stacked = d3.stack<number[], number>().keys(d3.range(shareKeys.length)).value((row, k) => row[k])(rows);
  const flow = d3.area<any>().x((d) => d.x).y0((d) => y(d.y0)).y1((d) => y(d.y1)).curve(d3.curveBumpX);
  return (
    <g>
      {stacked.map((s, k) =>
        d3.range(2).map((t) => {
          const a = s[t];
          const b = s[t + 1];
          if (a[1] - a[0] === 0 && b[1] - b[0] === 0) return null;
          const pts = [
            { x: x(dpiLabels[t])! + barW / 2, y0: a[0], y1: a[1] },
            { x: x(dpiLabels[t + 1])! - barW / 2, y0: b[0], y1: b[1] },
          ];
          return <path key={`${k}-${t}`} d={flow(pts) as string} fill={shareColors[k]} fillOpacity={0.45} stroke="#222" strokeWidth={0.6} />;
        }),
      )}
      {stacked.map((s, k) =>
        s.map((seg, t) =>
          seg[1] - seg[0] > 0 ? (
            <rect key={`${k}-${t}`} x={x(dpiLabels[t])! - barW / 2} y={y(seg[1])} width={barW} height={y(seg[0]) - y(seg[1])} fill={shareColors[k]} stroke="#444" strokeWidth={0.7} />
          ) : null,
        ),
      )}
    </g>
  );
}

function PanelD() {
  const yBands = [[577.7, 518.3], [647, 588.3]];
  const font = { fontFamily: SANS };
  return (
    <g {...font}>
      {shareFacets.map((f, c) => (
        <g key={f.organ}>
          <rect x={f.x} y={502} width={92} height={14} fill="#fff" stroke="#555" strokeWidth={0.9} />
          <text x={f.x + 46} y={513} textAnchor="middle" fontSize={11.5} fill="#222">{f.organ}</text>
          {f.rows.map((rows, r) => (
            <ShareFacet key={r} rows={rows} x0={f.x} yRange={yBands[r]} />
          ))}
          <line x1={f.x} x2={f.x + 92} y1={650} y2={650} stroke="#444" strokeWidth={0.9} />
          {dpiLabels.map((d, i) => {
            const x = f.x + 17.7 + i * 28.65;
            return (
              <g key={d}>
                <line x1={x} x2={x} y1={650} y2={652} stroke="#444" strokeWidth={0.7} />
                <text x={x} y={661} textAnchor="middle" fontSize={9.5} fill="#444">{d}</text>
              </g>
            );
          })}
          {c === 0 &&
            yBands.map((band, r) => {
              const y = d3.scaleLinear().domain([0, 1]).range(band);
              return shareTicks.map((t) => (
                <g key={`${r}-${t}`}>
                  <line x1={483} x2={485} y1={y(t)} y2={y(t)} stroke="#444" strokeWidth={0.7} />
                  <text x={482} y={y(t) + 3.3} textAnchor="end" fontSize={9.5} fill="#444">{t.toFixed(2)}</text>
                </g>
              ));
            })}
        </g>
      ))}
      <rect x={769} y={516} width={14} height={65} fill="#fff" stroke="#555" strokeWidth={0.9} />
      <text transform="translate(772,548.5) rotate(90)" textAnchor="middle" fontSize={11.5} fill="#222">Bmem</text>
      <rect x={769} y={585} width={14} height={65} fill="#fff" stroke="#555" strokeWidth={0.9} />
      <text transform="translate(772,617.5) rotate(90)" textAnchor="middle" fontSize={11.5} fill="#222">PB</text>
      <text transform="translate(463,583) rotate(-90)" textAnchor="middle" fontSize={12.5} fill="#111">Proportion</text>
      <text x={627} y={674} textAnchor="middle" fontSize={12} fill="#111">dpi</text>
      <text x={519} y={685.5} fontSize={12.2} fill="#111">Sharing of clones</text>
      {[0, 1].map((col) =>
        [0, 1, 2, 3].map((row) => {
          const legendOrder = [[0, 1, 4, 5], [2, 3, 6, 7]];
          const k = legendOrder[col][row];
          const y = [692, 712, 732.5, 752.5][row];
          return (
            <g key={k}>
              <rect x={col ? 612 : 520} y={y} width={19} height={19} fill={shareColors[k]} />
              <text x={col ? 638 : 546} y={y + 13} fontSize={9.6} fill="#333">{shareKeys[k]}</text>
            </g>
          );
        }),
      )}
    </g>
  );
}

export default function App() {
  return (
    <svg width={800} height={815} viewBox="0 0 800 815" style={{ position: 'absolute', left: 0, top: 0, background: '#fff' }}>
      <g fontFamily={SANS} fontWeight="bold" fontSize={14} fill="#111">
        <text x={13} y={25}>A</text>
        <text x={12} y={344}>B</text>
        <text x={472} y={20}>C</text>
        <text x={450} y={496}>D</text>
      </g>
      <PanelA />
      <PanelB />
      <PanelC />
      <PanelD />
    </svg>
  );
}
